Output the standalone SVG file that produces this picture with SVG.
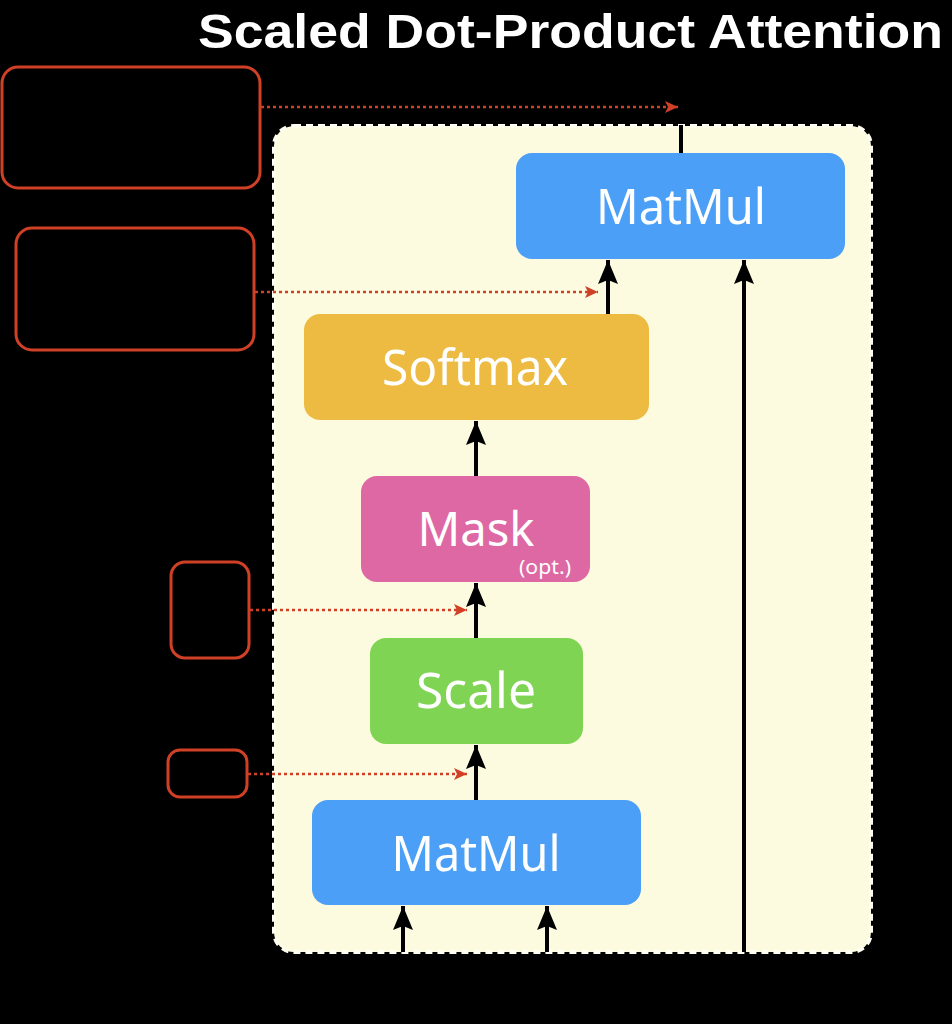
<svg xmlns="http://www.w3.org/2000/svg" width="952" height="1024" viewBox="0 0 952 1024">
<defs>
<style>
.node{stroke:none}
.lbl{font-family:"Noto Sans","Open Sans",sans-serif;fill:#ffffff;text-anchor:middle}
.big{font-size:50px}
.note{fill:none;stroke:#D04027;stroke-width:3}
.dot{fill:none;stroke:#D04027;stroke-width:2.5;stroke-dasharray:3 3}
.arr{fill:none;stroke:#000;stroke-width:4}
</style>
<marker id="ah" viewBox="0 0 24 20" refX="24" refY="10" markerWidth="24" markerHeight="20" markerUnits="userSpaceOnUse" orient="auto">
<path d="M0,0 L24,10 L0,20 L4,10 z" fill="#000"/>
</marker>
<marker id="rh" viewBox="0 0 13 12" refX="13" refY="6" markerWidth="13" markerHeight="12" markerUnits="userSpaceOnUse" orient="auto">
<path d="M0,0 L13,6 L0,12 L3,6 z" fill="#D04027"/>
</marker>
</defs>
<rect width="952" height="1024" fill="#000"/>
<text x="943" y="48" text-anchor="end" textLength="745" lengthAdjust="spacingAndGlyphs" font-family="'Liberation Sans',Arial,sans-serif" font-weight="bold" font-size="48" fill="#fff">Scaled Dot-Product Attention</text>

<g id="container">
<rect x="274" y="126" width="597" height="826" rx="20" fill="#FCFBDF" stroke="#FFFFF2" stroke-width="4" stroke-dasharray="7 5"/>
</g>

<g id="notes">
<rect class="note" x="2" y="67" width="258" height="121" rx="16"/>
<rect class="note" x="16" y="228" width="238" height="122" rx="16"/>
<rect class="note" x="171" y="562" width="78" height="96" rx="14"/>
<rect class="note" x="168" y="750" width="79" height="47" rx="12"/>
</g>

<g id="connectors">
<line class="arr" x1="681" y1="153" x2="681" y2="125"/>
<line class="arr" x1="608" y1="314" x2="608" y2="260" marker-end="url(#ah)"/>
<line class="arr" x1="744" y1="952" x2="744" y2="260" marker-end="url(#ah)"/>
<line class="arr" x1="476" y1="476" x2="476" y2="421" marker-end="url(#ah)"/>
<line class="arr" x1="476" y1="638" x2="476" y2="583" marker-end="url(#ah)"/>
<line class="arr" x1="476" y1="800" x2="476" y2="745" marker-end="url(#ah)"/>
<line class="arr" x1="403" y1="952" x2="403" y2="906" marker-end="url(#ah)"/>
<line class="arr" x1="547" y1="952" x2="547" y2="906" marker-end="url(#ah)"/>
<line class="dot" x1="261" y1="107" x2="678" y2="107" marker-end="url(#rh)"/>
<line class="dot" x1="255" y1="292" x2="598" y2="292" marker-end="url(#rh)"/>
<line class="dot" x1="250" y1="610" x2="467" y2="610" marker-end="url(#rh)"/>
<line class="dot" x1="248" y1="774" x2="467" y2="774" marker-end="url(#rh)"/>
</g>

<g id="matmul-top">
<rect class="node" x="516" y="153" width="329" height="106" rx="16" fill="#4B9FF6"/>
<text class="lbl big" x="681" y="224" textLength="170" lengthAdjust="spacingAndGlyphs">MatMul</text>
</g>
<g id="softmax">
<rect class="node" x="304" y="314" width="345" height="106" rx="16" fill="#EEBB42"/>
<text class="lbl big" x="475" y="385" textLength="186" lengthAdjust="spacingAndGlyphs">Softmax</text>
</g>
<g id="mask">
<rect class="node" x="361" y="476" width="229" height="106" rx="16" fill="#DD68A3"/>
<text class="lbl" x="476" y="546" font-size="48" textLength="117" lengthAdjust="spacingAndGlyphs">Mask</text>
<text class="lbl" x="545" y="574" font-size="19" textLength="52" lengthAdjust="spacingAndGlyphs">(opt.)</text>
</g>
<g id="scale">
<rect class="node" x="370" y="638" width="213" height="106" rx="16" fill="#80D454"/>
<text class="lbl big" x="476" y="708" textLength="120" lengthAdjust="spacingAndGlyphs">Scale</text>
</g>
<g id="matmul-bottom">
<rect class="node" x="312" y="800" width="329" height="105" rx="16" fill="#4B9FF6"/>
<text class="lbl big" x="476" y="871" textLength="169" lengthAdjust="spacingAndGlyphs">MatMul</text>
</g>
</svg>
